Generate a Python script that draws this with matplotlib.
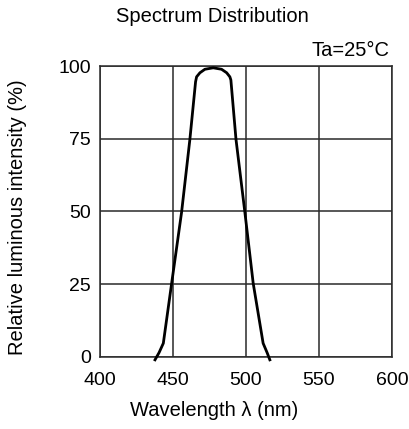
import matplotlib
matplotlib.use("Agg")
import matplotlib.pyplot as plt

plt.rcParams['font.family'] = ['Liberation Sans', 'DejaVu Sans']

# spectrum
wavelength = [437.7, 440.5, 443.4, 449.1, 455.9, 461.6, 465.5, 466.2, 468.5, 471.9,
              477.6, 483.3, 486.8, 489.0, 489.7, 493.2, 499.3, 505.0, 511.8, 514.5, 516.4]
intensity = [-1.0, 1.5, 4.7, 25.3, 49.7, 74.8, 94.6, 96.3, 97.7, 98.9,
             99.4, 98.9, 97.7, 96.3, 95.2, 74.8, 49.7, 25.3, 4.7, 1.5, -1.0]

x_ticks = [400, 450, 500, 550, 600]
y_ticks = [0, 25, 50, 75, 100]

fig = plt.figure(figsize=(4.09, 4.29), dpi=100)
ax = fig.add_axes([0.2445, 0.168, 0.7135, 0.678])

ax.plot(wavelength, intensity, color='black', lw=2, clip_on=False,
        solid_joinstyle='round', zorder=3)

ax.set_xlim(400, 600)
ax.set_ylim(0, 100)
ax.set_xticks(x_ticks)
ax.set_yticks(y_ticks)
ax.grid(True, color='#2a2a2a', lw=1.1)
ax.tick_params(length=0, labelsize=14)
ax.tick_params(axis='x', pad=11)
ax.tick_params(axis='y', pad=6.5)
for s in ax.spines.values():
    s.set_color('#2a2a2a')
    s.set_linewidth(1.1)

fig.text(214 / 409, 1 - 411 / 429, 'Wavelength λ (nm)', ha='center', va='center', fontsize=14.5)
fig.text(18 / 409, 1 - 217 / 429, 'Relative luminous intensity (%)', ha='center', va='center',
         rotation=90, fontsize=14.5)
fig.text(212.5 / 409, 1 - 17 / 429, 'Spectrum Distribution', ha='center', va='center', fontsize=14.5)
fig.text(390 / 409, 1 - 50 / 429, 'Ta=25°C', ha='right', va='center', fontsize=14.5)

fig.savefig('out.png', dpi=100, facecolor='white')
